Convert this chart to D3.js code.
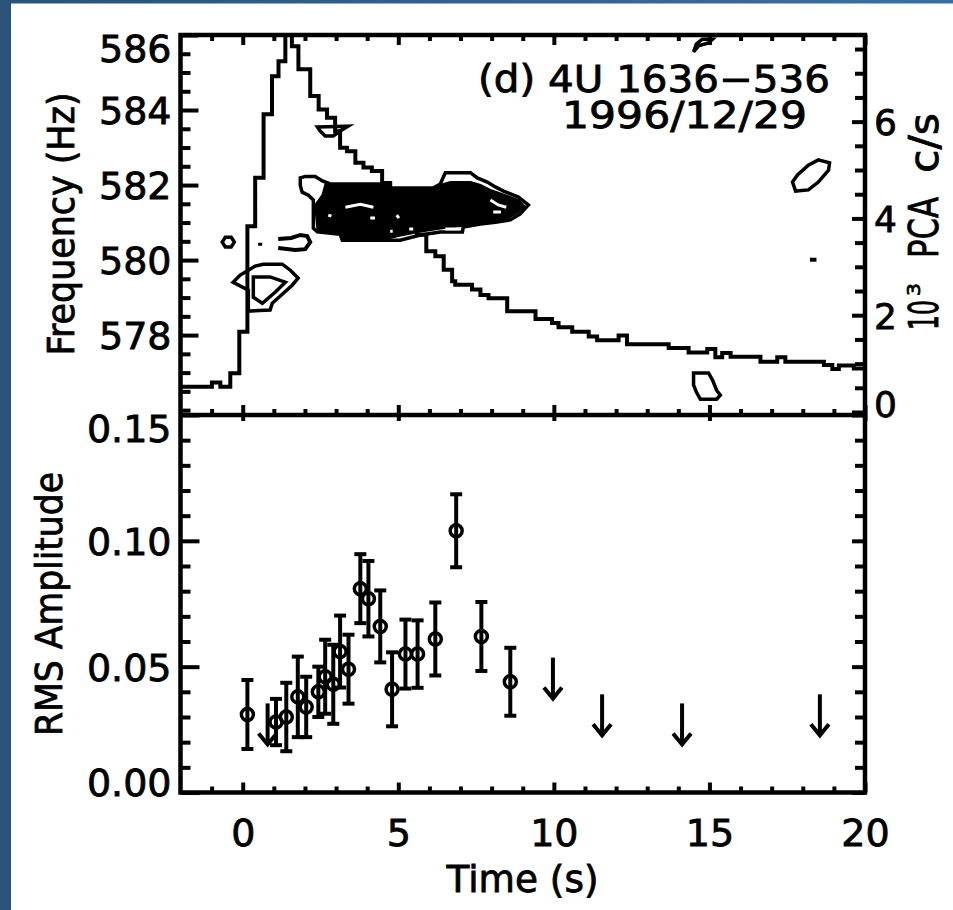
<!DOCTYPE html>
<html lang="en">
<head>
<meta charset="UTF-8">
<title>4U 1636-536 1996/12/29</title>
<script src="https://d3js.org/d3.v7.min.js"></script>
<style>
  html, body { margin: 0; padding: 0; background: #fff; }
  svg { display: block; }
  text { font-family: "DejaVu Sans", sans-serif; fill: #000; stroke: #000; stroke-width: 0.8px; }
</style>
</head>
<body>
<script>

// light curve: step start time (s) and rate (10^3 PCA c/s)
var lcTime = [-2.0, -0.99, -0.72, -0.40, -0.11, 0.15, 0.40, 0.67, 0.94, 1.15, 1.37, 1.58, 1.79, 2.17, 2.44,
              2.71, 2.97, 3.13, 3.35, 3.62, 3.88, 4.15, 4.48, 4.74, 5.00, 5.29, 5.60, 5.90, 6.19, 6.46,
              6.73, 6.83, 7.37, 7.64, 7.90, 8.50, 9.41, 9.94, 10.15, 10.59, 11.12, 11.39, 12.08, 12.35,
              13.69, 14.33, 14.93, 15.19, 15.41, 15.68, 16.64, 17.18, 17.44, 18.68, 18.95, 19.16, 19.64];
var lcRate = [0.52, 0.61, 0.52, 0.80, 1.66, 3.84, 4.84, 6.15, 6.94, 7.25, 8.30, 7.56, 7.08, 6.53, 6.25,
              6.08, 5.80, 5.46, 5.39, 5.15, 5.05, 4.98, 4.73, 4.45, 4.20, 3.95, 3.66, 3.32, 3.22, 2.94,
              2.70, 2.63, 2.53, 2.42, 2.35, 2.08, 1.92, 1.84, 1.75, 1.66, 1.56, 1.48, 1.58, 1.40,
              1.32, 1.23, 1.30, 1.13, 1.22, 1.14, 1.04, 1.13, 1.04, 0.97, 0.89, 0.96, 0.90];

// power contours, points are [time (s), frequency (Hz)]
var blobOuter = [[1.85,582.19],[2.01,582.23],[2.33,582.23],[2.56,582.11],[2.81,582.03],[4.74,582.03],[4.74,581.92],
                 [6.12,581.92],[6.35,582.03],[6.51,582.33],[7.32,582.33],[7.54,582.19],[7.86,582.08],[8.12,581.95],
                 [8.38,581.84],[8.86,581.68],[9.18,581.47],[8.92,581.23],[8.60,581.07],[8.12,581.01],[7.64,580.96],
                 [7.09,580.88],[7.06,580.75],[6.35,580.75],[5.71,580.67],[5.06,580.53],[3.20,580.53],[3.13,580.69],
                 [2.40,580.75],[2.27,580.85],[2.27,581.60],[2.11,581.73],[1.91,581.81],[1.85,581.99]];
var blobCore = [[2.65,582.00],[4.74,582.00],[4.74,581.92],[6.12,581.92],[6.35,582.00],[6.67,582.08],[7.32,582.08],
                [7.64,582.00],[7.96,581.87],[8.44,581.73],[8.86,581.60],[9.05,581.44],[8.86,581.28],[8.54,581.12],
                [8.12,581.04],[7.73,580.99],[7.06,580.91],[6.41,580.85],[5.64,580.75],[5.00,580.64],[4.74,580.59],
                [3.20,580.56],[3.13,580.72],[2.40,580.80],[2.33,581.47],[2.56,581.73]];
var blobGaps = [
  [[3.30,581.41],[3.78,581.49],[4.20,581.41]],
  [[4.10,581.12],[4.25,581.12]],
  [[4.95,581.20],[5.02,581.12]],
  [[2.75,581.20],[2.85,581.17]],
  [[7.96,581.60],[8.21,581.47],[8.47,581.41]],
  [[8.05,581.28],[8.30,581.28]],
  [[4.74,580.77],[4.82,580.77]],
  [[5.35,580.83],[5.48,580.83]],
  [[6.51,580.83],[7.00,580.83]]
];
var closedContours = [
  [[-0.66,580.48],[-0.56,580.61],[-0.37,580.61],[-0.27,580.48],[-0.37,580.35],[-0.56,580.35]],
  [[0.66,579.89],[1.27,579.89],[1.53,579.73],[1.78,579.52],[1.59,579.33],[1.27,579.09],[0.95,578.85],
   [0.88,578.67],[0.18,578.64],[0.18,579.20],[-0.31,579.41],[-0.08,579.60],[0.18,579.73],[0.40,579.84]],
  [[0.34,579.55],[0.88,579.55],[1.37,579.41],[1.05,579.15],[0.63,578.85],[0.34,579.01]],
  [[2.40,583.55],[3.39,583.57],[3.13,583.44],[2.91,583.31],[2.65,583.31],[2.49,583.44]],
  [[14.49,585.55],[14.58,585.76],[14.77,585.89],[15.10,585.89],[14.97,585.79],[14.65,585.71]],
  [[17.67,582.08],[17.83,582.27],[18.18,582.53],[18.50,582.67],[18.86,582.59],[18.83,582.40],[18.50,582.08],
   [18.18,581.87],[17.77,581.84]],
  [[14.49,576.99],[14.97,576.99],[15.10,576.80],[15.23,576.53],[15.35,576.40],[15.23,576.29],[14.71,576.29],
   [14.58,576.48],[14.49,576.67]]
];
var openContours = [
  [[1.14,580.56],[1.56,580.59],[1.85,580.67],[2.07,580.64],[2.17,580.48],[2.01,580.29],[1.69,580.27],[1.14,580.32]],
  [[0.56,580.46],[0.56,580.38]],
  [[18.23,580.01],[18.44,580.01]]
];

// rms amplitude
var rmsTime  = [0.15, 1.07, 1.40, 1.77, 2.04, 2.43, 2.65, 2.91, 3.13, 3.40, 3.78, 4.04, 4.42, 4.80, 5.23, 5.62, 6.19, 6.86, 7.67, 8.60];
var rmsValue = [0.031, 0.028, 0.030, 0.038, 0.034, 0.040, 0.046, 0.043, 0.056, 0.049, 0.081, 0.077, 0.066, 0.041, 0.055, 0.055, 0.061, 0.104, 0.062, 0.044];
var rmsError = [0.0137, 0.0092, 0.0136, 0.016, 0.012, 0.010, 0.0147, 0.0157, 0.0143, 0.0137, 0.0137, 0.015, 0.0143, 0.0147, 0.0137, 0.0134, 0.0145, 0.0145, 0.0137, 0.0135];
// upper limits
var ulTime  = [0.80, 9.97, 11.55, 14.12, 18.55];
var ulValue = [0.0354, 0.0536, 0.039, 0.0354, 0.039];

// tick labels
var timeTicks  = [0, 5, 10, 15, 20];
var freqTicks  = [578, 580, 582, 584, 586];
var countTicks = [0, 2, 4, 6];
var rmsTicks   = [0.00, 0.05, 0.10, 0.15];

var width = 953, height = 910;
var L = 180.5, R = 865, T = 35, M = 415, B = 792.5;

var svg = d3.select("body").append("svg")
    .attr("width", width)
    .attr("height", height);

var defs = svg.append("defs");
var grad = defs.append("linearGradient").attr("id", "topband");
grad.append("stop").attr("offset", "0%").attr("stop-color", "#2b5279");
grad.append("stop").attr("offset", "100%").attr("stop-color", "#3c6ea6");
defs.append("clipPath").attr("id", "upclip")
    .append("rect").attr("x", L).attr("y", T).attr("width", R - L).attr("height", M - T);

svg.append("rect").attr("width", width).attr("height", height).attr("fill", "#fff");
svg.append("rect").attr("width", width).attr("height", 3.5).attr("fill", "url(#topband)");
svg.append("rect").attr("width", 11).attr("height", height).attr("fill", "#2b5279");

var x  = d3.scaleLinear().domain([-2, 20]).range([L, R]);
var yF = d3.scaleLinear().domain([575.87, 586]).range([M, T]);
var yC = d3.scaleLinear().domain([-0.062, 7.79]).range([M, T]);
var yA = d3.scaleLinear().domain([0, 0.15]).range([B, M]);

function without(vals, majors) {
    return vals.filter(function(v) {
        return !majors.some(function(m) { return Math.abs(m - v) < 1e-6; });
    });
}
var timeMinor  = without(d3.range(-1, 20, 1), timeTicks);
var freqMinor  = without(d3.range(576, 586.01, 0.5), freqTicks);
var countMinor = without(d3.range(0.5, 7.6, 0.5), countTicks);
var rmsMinor   = without(d3.range(0.01, 0.145, 0.01), rmsTicks);

function axis(gen, scale, vals, size, tx, ty, fmt, pad) {
    var g = svg.append("g")
        .attr("transform", "translate(" + tx + "," + ty + ")")
        .call(gen(scale).tickValues(vals).tickSize(size).tickPadding(pad || 0)
              .tickFormat(fmt || function() { return ""; }));
    g.select(".domain").remove();
    g.selectAll(".tick line").attr("stroke", "#000").attr("stroke-width", 4);
    g.selectAll(".tick text").attr("fill", "#000")
        .style("font-family", '"DejaVu Sans", sans-serif').style("font-size", "38px");
    return g;
}

// clamp end labels inside the panel, as the original does
function clampLabels(g, scale, top, bottom) {
    g.selectAll(".tick text")
        .attr("dy", "0.36em")
        .attr("y", function(d) {
            var p = scale(d);
            return Math.max(top + 13, Math.min(bottom - 11, p)) - p;
        });
}

// x ticks on every horizontal edge
axis(d3.axisTop, x, timeTicks, -10, 0, T);
axis(d3.axisTop, x, timeMinor, -6, 0, T);
axis(d3.axisBottom, x, timeTicks, -10, 0, M);
axis(d3.axisBottom, x, timeMinor, -6, 0, M);
axis(d3.axisTop, x, timeTicks, -6, 0, M);
axis(d3.axisBottom, x, timeTicks, -10, 0, B, d3.format("d"), 27);
axis(d3.axisBottom, x, timeMinor, -6, 0, B);

// upper panel y axes
var gf = axis(d3.axisLeft, yF, freqTicks, -18, L, 0, d3.format("d"), 9);
clampLabels(gf, yF, T, M);
axis(d3.axisLeft, yF, freqMinor, -10, L, 0);
var gc = axis(d3.axisRight, yC, countTicks, -13, R, 0, d3.format("d"), 9);
gc.selectAll(".tick text").style("font-size", "36px");
clampLabels(gc, yC, T, M);
axis(d3.axisRight, yC, countMinor, -10, R, 0);

// lower panel y axes
var ga = axis(d3.axisLeft, yA, rmsTicks, -19, L, 0, d3.format(".2f"), 9);
clampLabels(ga, yA, M, B);
axis(d3.axisLeft, yA, rmsMinor, -10, L, 0);
axis(d3.axisRight, yA, rmsTicks, -13, R, 0);
axis(d3.axisRight, yA, rmsMinor, -10, R, 0);

// contours
var up = svg.append("g").attr("clip-path", "url(#upclip)");
var cOpen = d3.line().x(function(d) { return x(d[0]); }).y(function(d) { return yF(d[1]); });
var cClosed = d3.line().x(function(d) { return x(d[0]); }).y(function(d) { return yF(d[1]); })
    .curve(d3.curveLinearClosed);

up.append("path").attr("d", cClosed(blobCore)).attr("fill", "#000")
    .attr("stroke", "#000").attr("stroke-width", 2);
up.append("path").attr("d", cClosed(blobOuter))
    .attr("fill", "none").attr("stroke", "#000").attr("stroke-width", 3.5);
up.selectAll(".gap").data(blobGaps).enter().append("path")
    .attr("d", cOpen).attr("fill", "none").attr("stroke", "#fff").attr("stroke-width", 3);
up.selectAll(".cc").data(closedContours).enter().append("path")
    .attr("d", cClosed).attr("fill", "none").attr("stroke", "#000").attr("stroke-width", 3.5);
up.selectAll(".oc").data(openContours).enter().append("path")
    .attr("d", cOpen).attr("fill", "none").attr("stroke", "#000").attr("stroke-width", 4);

// light curve
var lcPts = lcTime.map(function(t, i) { return [t, lcRate[i]]; });
lcPts.push([20, lcRate[lcRate.length - 1]]);
var lcLine = d3.line().x(function(d) { return x(d[0]); }).y(function(d) { return yC(d[1]); })
    .curve(d3.curveStepAfter);
up.append("path").attr("d", lcLine(lcPts))
    .attr("fill", "none").attr("stroke", "#000").attr("stroke-width", 4)
    .attr("stroke-linejoin", "miter");

// rms points with error bars
var pts = rmsTime.map(function(t, i) { return { t: t, v: rmsValue[i], e: rmsError[i] }; });
var low = svg.append("g");
var pg = low.selectAll(".pt").data(pts).enter().append("g")
    .attr("transform", function(d) { return "translate(" + x(d.t) + ",0)"; });
pg.append("line")
    .attr("y1", function(d) { return yA(d.v - d.e); })
    .attr("y2", function(d) { return yA(d.v + d.e); })
    .attr("stroke", "#000").attr("stroke-width", 4);
pg.append("line").attr("x1", -6).attr("x2", 6)
    .attr("y1", function(d) { return yA(d.v + d.e); })
    .attr("y2", function(d) { return yA(d.v + d.e); })
    .attr("stroke", "#000").attr("stroke-width", 4);
pg.append("line").attr("x1", -6).attr("x2", 6)
    .attr("y1", function(d) { return yA(d.v - d.e); })
    .attr("y2", function(d) { return yA(d.v - d.e); })
    .attr("stroke", "#000").attr("stroke-width", 4);
pg.append("circle").attr("r", 6)
    .attr("cy", function(d) { return yA(d.v); })
    .attr("fill", "none").attr("stroke", "#000").attr("stroke-width", 3.5);

// upper limit arrows
var ul = ulTime.map(function(t, i) { return { t: t, v: ulValue[i] }; });
var ag = low.selectAll(".ul").data(ul).enter().append("g")
    .attr("transform", function(d) { return "translate(" + x(d.t) + "," + yA(d.v) + ")"; });
ag.append("line").attr("y1", 0).attr("y2", 41).attr("stroke", "#000").attr("stroke-width", 4);
ag.append("path").attr("d", "M-9,30L0,41L9,30")
    .attr("fill", "none").attr("stroke", "#000").attr("stroke-width", 4);

// frame
svg.append("rect").attr("x", L).attr("y", T).attr("width", R - L).attr("height", B - T)
    .attr("fill", "none").attr("stroke", "#000").attr("stroke-width", 4.5);
svg.append("line").attr("x1", L).attr("x2", R).attr("y1", M).attr("y2", M)
    .attr("stroke", "#000").attr("stroke-width", 4.5);

// titles
svg.append("text").attr("x", 478).attr("y", 92)
    .attr("textLength", 352).attr("lengthAdjust", "spacingAndGlyphs")
    .style("font-size", "37px").text("(d) 4U 1636\u2212536");
svg.append("text").attr("x", 562).attr("y", 128)
    .attr("textLength", 245).attr("lengthAdjust", "spacingAndGlyphs")
    .style("font-size", "37px").text("1996/12/29");

svg.append("text").attr("x", 522.5).attr("y", 892).attr("text-anchor", "middle")
    .attr("textLength", 152).attr("lengthAdjust", "spacingAndGlyphs")
    .style("font-size", "38px").text("Time (s)");

svg.append("text").attr("transform", "translate(74,224) rotate(-90)").attr("text-anchor", "middle")
    .attr("textLength", 263).attr("lengthAdjust", "spacingAndGlyphs")
    .style("font-size", "38px").text("Frequency (Hz)");
svg.append("text").attr("transform", "translate(62,604) rotate(-90)").attr("text-anchor", "middle")
    .attr("textLength", 264).attr("lengthAdjust", "spacingAndGlyphs")
    .style("font-size", "38px").text("RMS Amplitude");

// right title: 10^3 PCA c/s
var rt = [
    { s: "10",  x: 938, y: 330, len: 30, fs: 40 },
    { s: "3",   x: 920, y: 296, len: 13, fs: 18 },
    { s: "PCA", x: 938, y: 258, len: 61, fs: 40 },
    { s: "c/s", x: 938, y: 173, len: 60, fs: 40 }
];
svg.selectAll(".rt").data(rt).enter().append("text")
    .attr("transform", function(d) { return "translate(" + d.x + "," + d.y + ") rotate(-90)"; })
    .attr("textLength", function(d) { return d.len; }).attr("lengthAdjust", "spacingAndGlyphs")
    .style("font-size", function(d) { return d.fs + "px"; })
    .text(function(d) { return d.s; });

</script>
</body>
</html>
